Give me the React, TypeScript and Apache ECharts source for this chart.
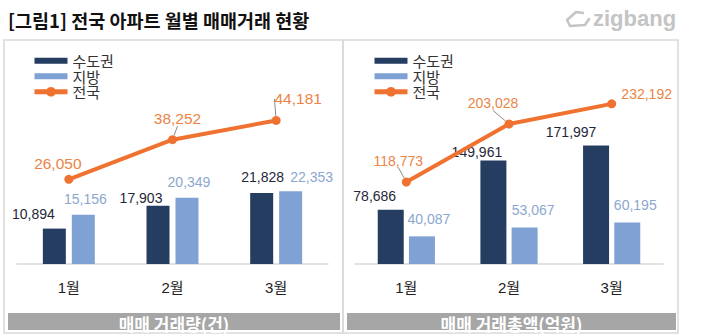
import React, { useEffect, useRef } from 'react';
import * as echarts from 'echarts';

const months = ['1월', '2월', '3월'];
const volMetro = [10894, 17903, 21828];
const volRegion = [15156, 20349, 22353];
const volNation = [26050, 38252, 44181];
const amtMetro = [78686, 149961, 171997];
const amtRegion = [40087, 53067, 60195];
const amtNation = [118773, 203028, 232192];
const seriesNames = ['수도권', '지방', '전국'];
const panelTitles = ['매매 거래량(건)', '매매 거래총액(억원)'];
const chartTitle = '[그림1] 전국 아파트 월별 매매거래 현황';
const brand = 'zigbang';

// label offsets (layout only)
const volMetroOff = [[-21, -3], [-17, 4], [1, -4]];
const volRegionOff = [[2, -4], [2, -4], [21, -2]];
const volNationOff = [[-11, 2], [5, -4], [22, -4]];
const amtMetroOff = [[-16, -2], [-16.5, 3], [-25, -1]];
const amtRegionOff = [[7, -5], [8.5, -5], [8, -5]];
const amtNationOff = [[-8, -5], [-16, -4], [35, 7]];
const volLeaders = [false, true, true];
const amtLeaders = [true, true, false];

const NUM = '"Liberation Sans", Arial, sans-serif';
const KR = '"Noto Sans CJK KR", sans-serif';
const MIX = '"Liberation Sans", "Noto Sans CJK KR", sans-serif';
const DARK = '#263D62';
const LIGHT = '#7FA1D4';
const ORANGE = '#F07230';
const ORANGE_LABEL = '#EB8446';
const RECT = 'path://M0,0H33V6H0Z';

const fmt = (p: any) => Number(p.value).toLocaleString('en-US');

const bar = (name: string, data: number[], offs: number[][], axis: number, color: string, labelColor: string, width: number, gap: string) => ({
  type: 'bar',
  name,
  xAxisIndex: axis,
  yAxisIndex: axis,
  barWidth: width,
  barGap: gap,
  itemStyle: { color },
  label: { show: true, position: 'top', distance: 5, color: labelColor, fontSize: 14, fontFamily: NUM, formatter: fmt },
  data: data.map((v, i) => ({ value: v, label: { offset: offs[i] } })),
});

const line = (name: string, data: number[], offs: number[][], leaders: boolean[], axis: number, fontSize: number) => ({
  type: 'line',
  name,
  xAxisIndex: axis,
  yAxisIndex: axis,
  z: 5,
  symbol: 'circle',
  symbolSize: 9,
  itemStyle: { color: ORANGE },
  lineStyle: { color: ORANGE, width: 4 },
  label: { show: true, position: 'top', distance: 5, color: ORANGE_LABEL, fontSize, fontFamily: NUM, formatter: fmt },
  labelLine: { show: true, lineStyle: { color: '#8C8C8C', width: 1 } },
  labelLayout: (p: any) => ({ dx: offs[p.dataIndex][0], dy: offs[p.dataIndex][1] }),
  data: data.map((v, i) => ({ value: v, labelLine: { show: leaders[i] } })),
});

const legend = (left: number) => ({
  orient: 'vertical',
  left,
  top: 48,
  itemWidth: 33,
  itemHeight: 12,
  itemGap: 0,
  selectedMode: false,
  textStyle: { fontSize: 15, lineHeight: 15.5, color: '#333', fontFamily: KR },
  data: [
    { name: seriesNames[0], icon: RECT },
    { name: seriesNames[1], icon: RECT },
    { name: seriesNames[2], lineStyle: { width: 5, color: ORANGE } },
  ],
});

const xAxis = (gridIndex: number) => ({
  type: 'category',
  gridIndex,
  data: months,
  axisLine: { lineStyle: { color: '#D9D9D9', width: 1.5 } },
  axisTick: { show: false },
  axisLabel: { fontSize: 15, color: '#222', margin: 16, fontFamily: MIX },
});

const yAxis = (gridIndex: number, max: number) => ({
  type: 'value',
  gridIndex,
  min: 0,
  max,
  show: false,
  splitLine: { show: false },
});

export default function App() {
  const ref = useRef<HTMLDivElement>(null);
  useEffect(() => {
    if (!ref.current) return;
    const chart = echarts.init(ref.current, undefined, { renderer: 'svg' });
    chart.setOption({
      animation: false,
      backgroundColor: '#fff',
      grid: [
        { left: 17, width: 311, top: 69, height: 195 },
        { left: 355, width: 308, top: 64, height: 200 },
      ],
      xAxis: [xAxis(0), xAxis(1)],
      yAxis: [yAxis(0, 60000), yAxis(1, 290000)],
      legend: [legend(27), legend(367)],
      series: [
        bar(seriesNames[0], volMetro, volMetroOff, 0, DARK, '#1F2838', 23, '26%'),
        bar(seriesNames[1], volRegion, volRegionOff, 0, LIGHT, '#8CA7CF', 23, '26%'),
        line(seriesNames[2], volNation, volNationOff, volLeaders, 0, 15.5),
        bar(seriesNames[0], amtMetro, amtMetroOff, 1, DARK, '#1F2838', 26, '20%'),
        bar(seriesNames[1], amtRegion, amtRegionOff, 1, LIGHT, '#8CA7CF', 26, '20%'),
        line(seriesNames[2], amtNation, amtNationOff, amtLeaders, 1, 14),
      ],
      graphic: [
        { type: 'text', x: 8, y: 20, style: { text: chartTitle, font: `bold 18.5px ${KR}`, fill: '#111', textVerticalAlign: 'middle' } },
        {
          type: 'polyline',
          shape: { points: [[583, 13], [576, 12], [567, 20], [570, 26], [585, 25], [589, 19]] },
          style: { stroke: '#C4C4C4', lineWidth: 2.5, fill: 'none', lineCap: 'round', lineJoin: 'round' },
        },
        { type: 'text', x: 593, y: 18, style: { text: brand, font: `bold 22px ${NUM}`, fill: '#C4C4C4', textVerticalAlign: 'middle' } },
        { type: 'rect', shape: { x: 4, y: 40, width: 339, height: 293 }, style: { fill: 'none', stroke: '#D9D9D9', lineWidth: 1.5 } },
        { type: 'rect', shape: { x: 343, y: 40, width: 335, height: 293 }, style: { fill: 'none', stroke: '#D9D9D9', lineWidth: 1.5 } },
        { type: 'rect', shape: { x: 8, y: 313, width: 332, height: 17 }, style: { fill: '#A6A6A6' } },
        { type: 'rect', shape: { x: 347, y: 313, width: 329, height: 17 }, style: { fill: '#A6A6A6' } },
        { type: 'text', x: 174, y: 323, style: { text: panelTitles[0], fontSize: 17, fontFamily: KR, fontWeight: 'bold', fill: '#fff', align: 'center', verticalAlign: 'middle' } },
        { type: 'text', x: 511.5, y: 323, style: { text: panelTitles[1], fontSize: 17, fontFamily: KR, fontWeight: 'bold', fill: '#fff', align: 'center', verticalAlign: 'middle' } },
      ],
    });
    return () => chart.dispose();
  }, []);
  return <div ref={ref} style={{ position: 'fixed', left: 0, top: 0, width: 706, height: 336 }} />;
}
